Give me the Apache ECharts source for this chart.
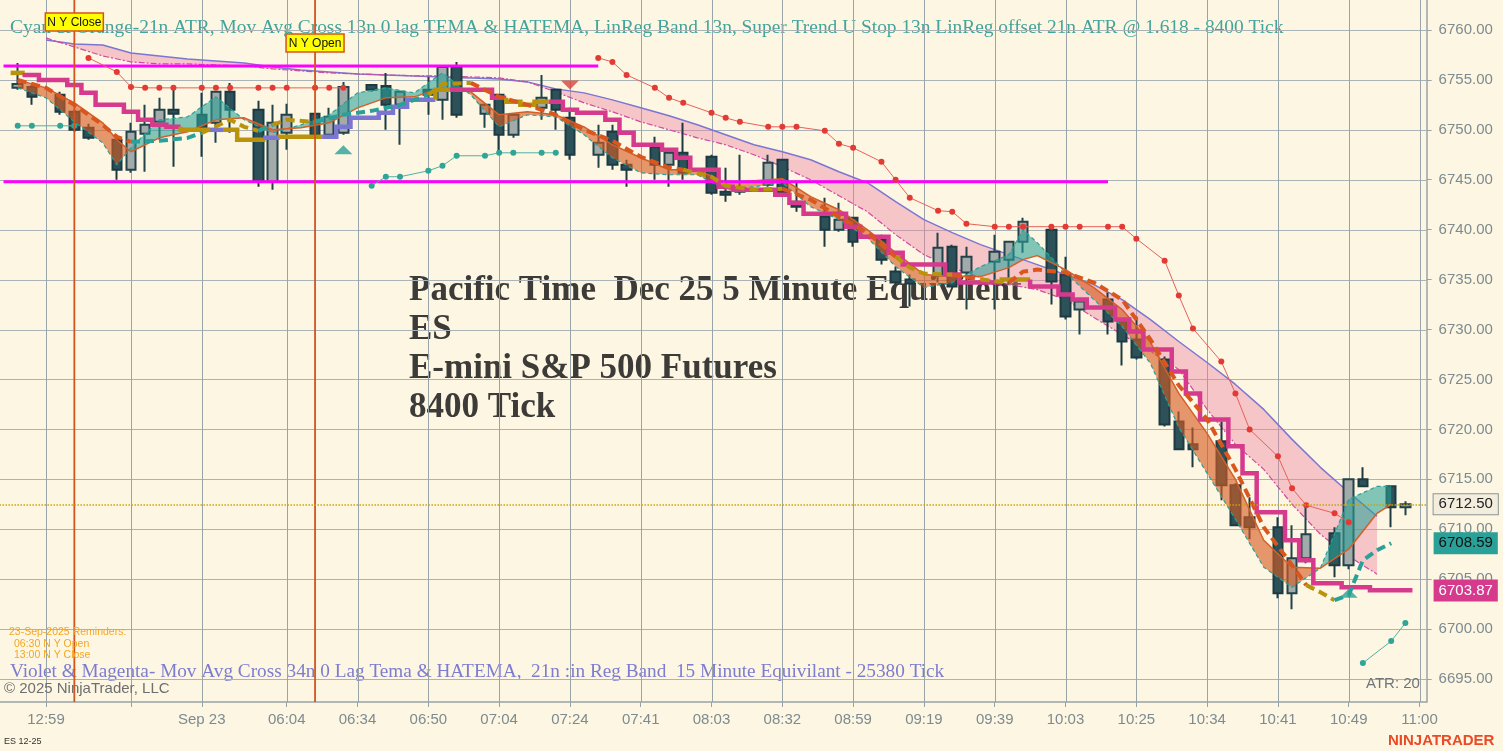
<!DOCTYPE html>
<html><head><meta charset="utf-8">
<script src="https://cdn.jsdelivr.net/npm/echarts@6/dist/echarts.min.js"></script>
<style>html,body{margin:0;padding:0;background:#fdf6e2;}#c{width:1503px;height:751px;}</style>
</head><body><div id="c"></div>
<script>
// ---------- DATA ----------
const slotCount = 100; // bar slots 0..99
const tickSlots = [2, 8, 13, 19, 24, 29, 34, 39, 44, 49, 54, 59, 64, 69, 74, 79, 84, 89, 94, 99];
const tickLabels = ['12:59', '', 'Sep 23', '06:04', '06:34', '06:50', '07:04', '07:24', '07:41', '08:03', '08:32', '08:59', '09:19', '09:39', '10:03', '10:25', '10:34', '10:41', '10:49', '11:00'];
const priceTicks = [6695, 6700, 6705, 6710, 6715, 6720, 6725, 6730, 6735, 6740, 6745, 6750, 6755, 6760];

// [open, close, low, high] per slot
const candles = [
 [6754.2,6754.6,6754.0,6756.7],[6754.3,6753.3,6752.5,6754.5],null,[6753.5,6751.8,6751.5,6753.8],
 [6751.8,6750.0,6749.8,6752.0],[6750.2,6749.2,6749.0,6750.6],null,[6749.0,6746.0,6745.0,6749.5],
 [6746.0,6749.8,6745.7,6750.7],[6749.6,6750.5,6745.8,6752.5],[6750.8,6752.0,6749.0,6753.2],[6752.0,6751.6,6746.3,6754.0],
 null,[6751.5,6750.2,6747.3,6753.7],[6750.7,6753.8,6748.7,6753.9],[6753.8,6752.0,6749.7,6754.7],
 null,[6752.0,6744.8,6744.3,6752.9],[6744.8,6750.7,6744.0,6752.5],[6749.7,6751.5,6748.0,6752.6],
 null,[6751.6,6749.5,6749.2,6751.7],[6749.5,6751.3,6749.1,6752.2],[6749.7,6754.3,6749.5,6754.8],
 null,[6754.5,6754.0,6753.8,6754.6],[6754.4,6752.5,6750.0,6755.7],[6752.5,6753.8,6748.5,6753.9],
 null,[6754.0,6753.5,6751.5,6755.3],[6753.0,6756.3,6751.0,6756.4],[6756.3,6751.5,6751.2,6756.8],
 null,[6751.6,6752.5,6750.2,6752.6],[6753.5,6749.5,6747.5,6753.6],[6749.5,6751.5,6749.2,6751.6],
 null,[6752.2,6753.2,6751.0,6755.5],[6754.0,6752.0,6750.0,6754.1],[6751.2,6747.5,6747.0,6752.2],
 null,[6747.5,6748.7,6746.2,6750.5],[6749.8,6746.5,6746.0,6750.5],[6746.5,6746.0,6744.3,6747.0],
 null,[6748.3,6746.5,6745.0,6749.3],[6746.5,6747.7,6744.3,6747.8],[6747.7,6745.7,6745.0,6750.7],
 null,[6747.3,6743.7,6743.5,6747.5],[6743.8,6743.5,6742.8,6746.2],[6743.8,6744.2,6743.5,6747.5],
 null,[6744.5,6746.7,6744.3,6747.5],[6747.0,6743.7,6743.5,6747.1],[6742.8,6742.3,6741.8,6744.7],
 null,[6741.3,6740.0,6738.3,6743.2],[6740.0,6741.0,6739.8,6742.7],[6741.2,6738.8,6738.3,6741.3],
 null,[6739.0,6737.0,6736.5,6739.5],[6735.8,6734.7,6734.5,6736.3],[6735.0,6734.6,6732.3,6735.5],
 null,[6735.4,6738.2,6734.7,6739.7],[6738.3,6734.3,6734.2,6738.5],[6735.7,6737.3,6732.0,6738.3],
 null,[6736.8,6737.8,6732.0,6739.5],[6737.0,6738.8,6734.5,6738.9],[6738.8,6740.8,6737.7,6741.2],
 null,[6740.0,6734.8,6732.5,6740.4],[6735.5,6731.3,6731.0,6737.3],[6732.0,6732.8,6729.5,6732.9],
 null,[6733.0,6730.8,6729.5,6733.7],[6730.8,6728.8,6726.4,6730.9],[6729.0,6727.2,6727.0,6731.3],
 null,[6727.0,6720.5,6720.3,6727.3],[6720.8,6718.0,6718.0,6721.8],[6718.5,6718.0,6716.2,6720.2],
 null,[6718.8,6714.4,6712.9,6720.8],[6714.4,6710.4,6710.3,6714.6],[6711.2,6710.2,6709.0,6713.2],
 null,[6710.2,6703.6,6703.1,6711.2],[6703.6,6707.1,6702.0,6710.4],[6707.1,6709.5,6706.6,6712.6],
 null,[6709.6,6706.4,6705.2,6710.2],[6706.4,6715.0,6706.0,6715.1],[6715.0,6714.3,6714.3,6716.2],
 null,[6714.3,6712.2,6710.2,6714.4],[6712.2,6712.5,6711.4,6712.8],null
];

// LinReg band (violet top / magenta dash-dot bottom)
const lrSlots = [2,4,6,8,10,12,14,16,18,20,22,24,26,28,30,32,34,36,38,40,42,44,46,48,50,52,54,56,58,60,62,64,66,68,70,72,74,76,78,80,82,84,86,88,90,92,94,96];
const lrTop = [6759.0,6758.6,6758.5,6757.7,6757.4,6757.1,6756.9,6756.7,6756.3,6756.0,
 6755.8,6755.6,6755.5,6755.4,6755.3,6755.2,6755.1,6754.8,6754.1,6753.7,
 6753.0,6752.2,6751.4,6750.5,6749.5,6748.5,6747.8,6747.0,6745.8,6744.7,
 6742.8,6741.0,6739.7,6738.5,6737.5,6736.5,6735.5,6734.5,6733.0,6731.0,
 6728.8,6726.7,6724.5,6722.0,6719.0,6716.2,6713.7,6711.3];
const lrBottom = [6759.2,6758.3,6757.4,6756.8,6756.6,6756.6,6756.5,6756.4,6756.1,6755.9,
 6755.7,6755.6,6755.5,6755.4,6755.4,6755.3,6755.2,6754.8,6753.8,6752.7,
 6751.8,6750.8,6750.0,6749.2,6748.5,6747.5,6746.3,6745.0,6743.4,6741.8,
 6739.5,6737.5,6736.2,6735.2,6734.5,6734.0,6733.0,6731.2,6729.5,6727.8,
 6726.0,6722.0,6718.5,6716.0,6712.5,6709.5,6707.3,6705.5];

// 13n moving-average cross (thin orange fast line / teal slow line)
const maSlots = [0,2,4,6,7,8,10,12,14,16,18,20,22,24,26,28,30,32,34,36,38,40,42,44,46,48,50,52,54,56,58,60,62,64,66,68,70,71,72,74,76,78,80,82,84,86,88,90,92,94,96,97];
const maFast = [6755.0,6754.2,6752.7,6750.7,6749.0,6747.8,
 6749.2,6749.8,6751.0,6751.2,6750.0,6750.2,6750.7,6752.2,6753.2,6753.3,
 6754.2,6753.8,6751.5,6751.8,6751.5,6750.3,6748.5,6747.2,6746.0,6746.0,
 6744.7,6744.9,6745.1,6743.3,6742.0,6740.0,6737.7,6735.5,6735.3,6735.3,
 6736.2,6737.0,
 6737.4,6736.0,6734.2,6732.0,6728.7,6723.6,6719.6,6715.0,6708.9,6706.2,
 6706.1,6708.0,6711.6,6712.5];
const maSlow = [6754.2,6753.2,6750.8,6748.7,6746.5,6748.2,
 6751.0,6751.3,6753.3,6751.0,6749.7,6750.5,6751.5,6753.7,6754.2,6753.7,
 6755.7,6753.5,6750.3,6751.5,6751.3,6749.5,6747.2,6745.7,6745.5,6745.5,
 6744.0,6744.3,6744.7,6742.3,6741.0,6739.2,6736.3,6734.2,6734.7,6736.3,
 6737.5,6740.0,
 6738.7,6735.7,6733.0,6730.3,6726.6,6720.2,6715.6,6711.0,6706.2,6704.2,
 6706.1,6713.0,6714.3,6714.3];

// HATEMA thick dashed line with trend state (d = down, u = up, n = neutral)
const hSlots = [0,2,4,6,7,8,10,12,13,15,16,17,18,19,21,23,25,27,29,30,32,33,34,36,38,40,42,44,46,47,49,50,52,54,56,58,60,62,63,64,66,68,70,71,72,74,76,78,80,82,84,86,88,90,91,92,93,94,95,96,97];
const hValues = [6755.0,6754.2,6752.5,6750.5,6749.3,6748.8,6748.9,6749.2,6749.7,6751.0,
 6750.3,6749.9,6750.5,6751.0,6750.8,6751.5,6751.9,6752.5,6753.5,6754.6,
 6754.7,6754.0,6753.3,6752.5,6751.5,6750.0,6748.9,6747.3,6746.2,6746.0,
 6745.3,6744.4,6744.0,6744.1,6743.0,6741.3,6739.7,6737.3,6736.2,6735.6,
 6735.5,6735.0,6734.7,6735.8,6736.0,6735.7,6734.7,6733.0,6729.0,6724.4,
 6721.0,6716.0,6710.2,6706.4,6704.4,6703.7,6702.9,6703.4,6706.9,6707.9,6708.6];
const hTrend = ['d','d','d','d','d','d','u','u','u','n','n','n','u','n','n','u','u','u','u','n',
 'n','d','d','d','d','d','d','d','d','d','n','n','n','n','d','d','d','d','n','n',
 'n','d','n','d','d','d','d','d','d','d','d','d','d','d','d','n','n','u','u','u','u'];

// 34n higher-timeframe step line, one value per slot 0..98, with trend state
const stepValues = [6755.7,6755.5,6755.0,6755.0,6754.5,6753.7,6752.5,6752.5,6751.8,6751.0,
 6750.5,6750.3,6750.0,6750.0,6750.0,6750.0,6749.0,6749.0,6749.2,6749.3,
 6749.3,6749.3,6749.3,6750.3,6751.2,6751.2,6751.7,6752.3,6753.0,6753.0,
 6754.0,6754.0,6754.0,6754.0,6753.2,6752.8,6752.5,6752.8,6752.8,6752.0,
 6751.7,6751.7,6751.0,6749.7,6748.5,6748.5,6748.0,6747.2,6746.0,6746.0,
 6744.3,6744.0,6744.0,6744.0,6743.5,6742.7,6741.6,6741.6,6741.6,6740.3,
 6739.3,6739.3,6737.7,6736.5,6736.5,6736.5,6735.5,6734.7,6734.7,6734.7,
 6735.0,6735.0,6734.3,6734.3,6733.5,6733.0,6732.2,6732.2,6731.0,6729.8,
 6728.0,6728.0,6725.8,6723.6,6721.0,6721.0,6718.3,6715.6,6711.7,6711.7,
 6708.9,6706.9,6704.6,6704.6,6704.2,6704.2,6703.9,6703.9,6703.9];
const stepTrend = ('n' + 'ddddddddddd' + 'nn' + 'u' + 'nnn' + 'u' + 'nnn' + 'uuuuuuuu' + 'n' + 'dddd' + 'nnn' +
 'dddddddddddddddddddddddddddddddd' + 'nn' + 'ddddddddddddddddddddddddddd').split('');

// Super Trend stops [slot, price]
const upperStopA = [[5,6757.2],[7,6755.8],[8,6754.3],[9,6754.2],[10,6754.2],[11,6754.2],[13,6754.2],[14,6754.2],[15,6754.2],[17,6754.2],[18,6754.2],[19,6754.2],[21,6754.2],[22,6754.2],[23,6754.2]];
const upperStopB = [[41,6757.2],[42,6756.8],[43,6755.5],[45,6754.2],[46,6753.2],[47,6752.7],[49,6751.7],[50,6751.2],[51,6750.8],[53,6750.3],[54,6750.3],[55,6750.3],[57,6749.9],[58,6748.6],[59,6748.2],[61,6746.8],[62,6745.0],[63,6743.2],[65,6741.9],[66,6741.8],[67,6740.6],[69,6740.3],[70,6740.3],[71,6740.3],[73,6740.3],[74,6740.3],[75,6740.3],[77,6740.3],[78,6740.3],[79,6739.1],[81,6736.9],[82,6733.4],[83,6730.1],[85,6726.8],[86,6723.6],[87,6720.0],[89,6717.3],[90,6714.1],[91,6712.4],[93,6711.6],[94,6710.7]];
const lowerStopA = [[0,6750.4],[1,6750.4],[3,6750.4],[4,6750.4]];
const lowerStopB = [[25,6744.4],[26,6745.3],[27,6745.3],[29,6745.9],[30,6746.4],[31,6747.4],[33,6747.4],[34,6747.7],[35,6747.7],[37,6747.7],[38,6747.7]];
const lowerStopC = [[95,6696.6],[97,6698.8],[98,6700.6]];

const signalUp = [[23, 6748.0], [94, 6703.6]];
const signalDown = [[39, 6754.5]];
const levelPrices = [6756.4, 6744.8];
const levelEndSlots = [41, 77];
const nySlots = [4, 21];
const nyLabels = ['N Y Close', 'N Y Open'];
const lastPrice = 6712.50;
const hatemaTag = 6708.59;
const stepTag = 6703.87;

// ---------- CHART ----------
const cat = k => k + 1; // category 0 is a left padding slot
const cats = Array.from({length: slotCount + 1}, (_, i) => String(i - 1));
const tickCats = new Set(tickSlots.map(cat));
const labelByCat = {};
tickSlots.forEach((k, i) => { labelByCat[cat(k)] = tickLabels[i]; });
const pairs = arr => arr.map(p => [cat(p[0]), p[1]]);

const C_ORANGE = '#d9561f', C_TEAL = '#2aa198', C_GOLD = '#b8930b';
const C_MAG = '#d63a8c', C_VIO = '#7b76d2';
const trendColorH = {d: C_ORANGE, u: C_TEAL, n: C_GOLD};
const trendColorS = {d: C_MAG, u: C_VIO, n: C_GOLD};
const FS = '"Liberation Serif", "DejaVu Serif", serif';
const FA = '"Liberation Sans", Arial, sans-serif';
const anchor = [[cat(50), 6730]];

const series = [];
// horizontal grid
series.push({type: 'custom', z: 1, silent: true, data: priceTicks.map(p => [cat(0), p]),
  renderItem(params, api) {
    const cs = params.coordSys; const y = Math.round(api.coord([api.value(0), api.value(1)])[1]) + 0.5;
    return {type: 'line', shape: {x1: cs.x, y1: y, x2: cs.x + cs.width, y2: y}, style: {stroke: '#aab3b5', lineWidth: 1}};
  }});
// vertical grid
series.push({type: 'custom', z: 1, silent: true, data: tickSlots.map(k => [cat(k), 6730]),
  renderItem(params, api) {
    const cs = params.coordSys; const x = Math.round(api.coord([api.value(0), api.value(1)])[0]) + 0.5;
    return {type: 'line', shape: {x1: x, y1: cs.y, x2: x, y2: cs.y + cs.height}, style: {stroke: '#98a4a8', lineWidth: 1}};
  }});
// LinReg pink band
series.push({type: 'custom', z: 1, silent: true, data: anchor,
  renderItem(params, api) {
    const pts = [];
    lrSlots.forEach((k, i) => pts.push(api.coord([cat(k), lrTop[i]])));
    for (let i = lrSlots.length - 1; i >= 0; i--) pts.push(api.coord([cat(lrSlots[i]), lrBottom[i]]));
    return {type: 'polygon', shape: {points: pts}, style: {fill: 'rgba(234,128,165,0.42)'}};
  }});
series.push({type: 'line', z: 1, silent: true, symbol: 'none', data: lrSlots.map((k, i) => [cat(k), lrTop[i]]), lineStyle: {color: C_VIO, width: 1.5}});
series.push({type: 'line', z: 1, silent: true, symbol: 'none', data: lrSlots.map((k, i) => [cat(k), lrBottom[i]]), lineStyle: {color: '#d34aa2', width: 1.2, type: [6, 2, 2, 2]}});
// candles
series.push({type: 'candlestick', z: 2, silent: true, barWidth: 10,
  data: [null].concat(candles).map(c => c ? c : '-'),
  itemStyle: {color: '#a2aaaa', color0: '#2c5159', borderColor: '#23434a', borderColor0: '#1d3a42', borderWidth: 2},
  markLine: {silent: true, symbol: ['none', 'none'], animation: false, z: 8,
    label: {position: 'end', distance: 7, fontSize: 15, fontFamily: FA, padding: [3, 5, 2, 5]},
    data: [
      {yAxis: lastPrice, lineStyle: {color: '#c9a300', type: 'dotted', width: 1.5},
       label: {formatter: lastPrice.toFixed(2), backgroundColor: '#f2eddc', borderColor: '#8e9593', borderWidth: 1, color: '#222'}},
      {yAxis: hatemaTag, lineStyle: {color: 'rgba(0,0,0,0)', width: 0},
       label: {formatter: hatemaTag.toFixed(2), backgroundColor: C_TEAL, color: '#111', padding: [4, 5, 3, 5]}},
      {yAxis: stepTag, lineStyle: {color: 'rgba(0,0,0,0)', width: 0},
       label: {formatter: stepTag.toFixed(2), backgroundColor: C_MAG, color: '#fff', padding: [4, 5, 3, 5]}}
    ]}});
// MA cross fill (orange when fast above slow, teal otherwise)
series.push({type: 'custom', z: 3, silent: true, data: anchor,
  renderItem(params, api) {
    const P1 = maSlots.map((k, i) => api.coord([cat(k), maFast[i]]));
    const P2 = maSlots.map((k, i) => api.coord([cat(k), maSlow[i]]));
    const poly = (u, l, s) => ({type: 'polygon', shape: {points: u.concat(l.slice().reverse())},
      style: {fill: s > 0 ? 'rgba(214,92,34,0.62)' : 'rgba(42,160,150,0.58)'}});
    const children = [];
    let sign = Math.sign(P2[0][1] - P1[0][1]) || 1;
    let up = [P1[0]], lo = [P2[0]];
    for (let i = 1; i < P1.length; i++) {
      const d0 = P2[i - 1][1] - P1[i - 1][1], d1 = P2[i][1] - P1[i][1];
      const s1 = Math.sign(d1);
      if (s1 !== 0 && s1 !== sign) {
        const t = (d0 - d1) !== 0 ? d0 / (d0 - d1) : 0;
        const c = [P1[i - 1][0] + t * (P1[i][0] - P1[i - 1][0]), P1[i - 1][1] + t * (P1[i][1] - P1[i - 1][1])];
        up.push(c); lo.push(c);
        children.push(poly(up, lo, sign));
        up = [c]; lo = [c]; sign = s1;
      }
      up.push(P1[i]); lo.push(P2[i]);
    }
    children.push(poly(up, lo, sign));
    return {type: 'group', children};
  }});
series.push({type: 'line', z: 3, silent: true, symbol: 'none', data: maSlots.map((k, i) => [cat(k), maSlow[i]]), lineStyle: {color: C_TEAL, width: 1.2, type: [4, 3]}});
series.push({type: 'line', z: 3, silent: true, symbol: 'none', data: maSlots.map((k, i) => [cat(k), maFast[i]]), lineStyle: {color: '#d2602a', width: 1.5}});
// magenta level lines
levelPrices.forEach((p, i) => {
  series.push({type: 'line', z: 3, silent: true, symbol: 'none', data: [[cat(-1), p], [cat(levelEndSlots[i]), p]], lineStyle: {color: '#ff00ff', width: 3}});
});
// 34n step line
series.push({type: 'custom', z: 4, silent: true, data: anchor,
  renderItem(params, api) {
    const w = api.size([1, 0])[0];
    const children = [];
    const pl = (pts, code) => ({type: 'polyline', shape: {points: pts}, style: {stroke: trendColorS[code], lineWidth: 4.5, fill: 'none', lineJoin: 'miter'}});
    let run = [], code = stepTrend[0];
    for (let k = 0; k < stepValues.length; k++) {
      const p = api.coord([cat(k), stepValues[k]]);
      const xl = p[0] - w / 2, xr = p[0] + w / 2, y = p[1];
      if (k === 0) { run = [[xl, y], [xr, y]]; continue; }
      const yPrev = api.coord([cat(k - 1), stepValues[k - 1]])[1];
      if (stepTrend[k] !== code) { children.push(pl(run, code)); run = [[xl, yPrev]]; code = stepTrend[k]; }
      run.push([xl, y], [xr, y]);
    }
    children.push(pl(run, code));
    return {type: 'group', children};
  }});
// HATEMA dashed
series.push({type: 'custom', z: 4, silent: true, data: anchor,
  renderItem(params, api) {
    const pts = hSlots.map((k, i) => api.coord([cat(k), hValues[i]]));
    const children = [];
    const pl = (p, code) => ({type: 'polyline', shape: {points: p}, style: {stroke: trendColorH[code], lineWidth: 4, fill: 'none', lineDash: [9, 5]}});
    let run = [pts[0]], code = hTrend[1];
    for (let i = 1; i < pts.length; i++) {
      if (hTrend[i] !== code) { children.push(pl(run, code)); run = [pts[i - 1]]; code = hTrend[i]; }
      run.push(pts[i]);
    }
    children.push(pl(run, code));
    return {type: 'group', children};
  }});
// stops
[upperStopA, upperStopB].forEach(s => series.push({type: 'line', z: 4, silent: true, data: pairs(s), symbol: 'circle', symbolSize: 6,
  itemStyle: {color: '#e23a34'}, lineStyle: {color: '#e8615a', width: 1}}));
[lowerStopA, lowerStopB, lowerStopC].forEach(s => series.push({type: 'line', z: 4, silent: true, data: pairs(s), symbol: 'circle', symbolSize: 6,
  itemStyle: {color: '#2ea596'}, lineStyle: {color: '#4fb1a6', width: 1}}));
// signal triangles
series.push({type: 'scatter', z: 5, silent: true, symbol: 'triangle', symbolSize: [18, 9], data: pairs(signalUp), itemStyle: {color: C_TEAL}});
series.push({type: 'scatter', z: 5, silent: true, symbol: 'triangle', symbolRotate: 180, symbolSize: [18, 9], data: pairs(signalDown), itemStyle: {color: '#d9443a'}});
// N Y open / close markers
series.push({type: 'custom', z: 6, silent: true, data: nySlots.map(k => [cat(k), 6730]),
  renderItem(params, api) {
    const cs = params.coordSys;
    const x = api.coord([api.value(0), api.value(1)])[0];
    const i = params.dataIndex;
    const top = cs.y + 13 + 21 * i;
    return {type: 'group', children: [
      {type: 'line', shape: {x1: x, y1: cs.y, x2: x, y2: cs.y + cs.height}, style: {stroke: '#d2541e', lineWidth: 1.8}},
      {type: 'rect', shape: {x: x - 29, y: top, width: 58, height: 18}, style: {fill: '#ffff00', stroke: '#d2541e', lineWidth: 1.5}},
      {type: 'text', x: x, y: top + 9.5, style: {text: nyLabels[i], font: '12px ' + FA, fill: '#111',
        align: 'center', verticalAlign: 'middle', textAlign: 'center', textVerticalAlign: 'middle'}}
    ]};
  }});

const txt = (x, y, text, font, fill, z) => ({type: 'text', x, y, z: z, silent: true,
  style: {text, font, fill, verticalAlign: 'middle', textVerticalAlign: 'middle'}});

const option = {
  backgroundColor: '#fdf6e2',
  animation: false,
  grid: {left: -3.54, right: 76.4, top: 0, bottom: 49, containLabel: false, outerBoundsMode: 'none'},
  xAxis: {type: 'category', data: cats, boundaryGap: true,
    axisLine: {lineStyle: {color: '#98a3a6', width: 1.5}},
    axisTick: {show: true, alignWithLabel: true, length: 5, interval: i => tickCats.has(i), lineStyle: {color: '#98a3a6'}},
    axisLabel: {interval: i => tickCats.has(i), formatter: (v, i) => labelByCat[i] || '', color: '#7d8b90', fontSize: 15, fontFamily: FA, margin: 10},
    splitLine: {show: false}},
  yAxis: {type: 'value', position: 'right', min: 6692.7, max: 6763.0,
    axisLine: {show: true, lineStyle: {color: '#98a3a6', width: 1.5}},
    axisTick: {show: true, length: 5, customValues: priceTicks, lineStyle: {color: '#98a3a6'}},
    axisLabel: {customValues: priceTicks, formatter: v => v.toFixed(2), color: '#7d8b90', fontSize: 15, fontFamily: FA, margin: 12},
    splitLine: {show: false}},
  series,
  graphic: [
    txt(10, 27.5, 'Cyan & Orange-21n ATR, Mov Avg Cross 13n 0 lag TEMA & HATEMA, LinReg Band 13n, Super Trend U Stop 13n LinReg offset 21n ATR @ 1.618 - 8400 Tick', '19.4px ' + FS, '#42a49c', 0),
    txt(10, 671.5, 'Violet & Magenta- Mov Avg Cross 34n 0 Lag Tema & HATEMA,  21n :in Reg Band  15 Minute Equivilant - 25380 Tick', '19.25px ' + FS, '#7c7cd0', 0),
    txt(409, 291, 'Pacific Time  Dec 25 5 Minute Equivilent', 'bold 35px ' + FS, '#3c3b38', 0),
    txt(409, 330, 'ES', 'bold 35px ' + FS, '#3c3b38', 0),
    txt(409, 369, 'E-mini S&P 500 Futures', 'bold 35px ' + FS, '#3c3b38', 0),
    txt(409, 408, '8400 Tick', 'bold 35px ' + FS, '#3c3b38', 0),
    txt(9, 632, '23-Sep-2025 Reminders:', '10.5px ' + FA, '#f5a623', 50),
    txt(14, 644, '06:30 N Y Open', '10.5px ' + FA, '#f5a623', 50),
    txt(14, 655.5, '13:00 N Y Close', '10.5px ' + FA, '#f5a623', 50),
    txt(4, 689, '\u00a9 2025 NinjaTrader, LLC', '15px ' + FA, '#6f6f6f', 50),
    txt(1366, 684, 'ATR: 20', '15px ' + FA, '#6f7578', 50),
    txt(4, 742, 'ES 12-25', '9px ' + FA, '#333', 50),
    txt(1388, 741, 'NINJATRADER', 'bold 15px ' + FA, '#ea4a25', 50)
  ]
};
const chart = echarts.init(document.getElementById('c'), null, {renderer: 'canvas'});
chart.setOption(option);
</script></body></html>
